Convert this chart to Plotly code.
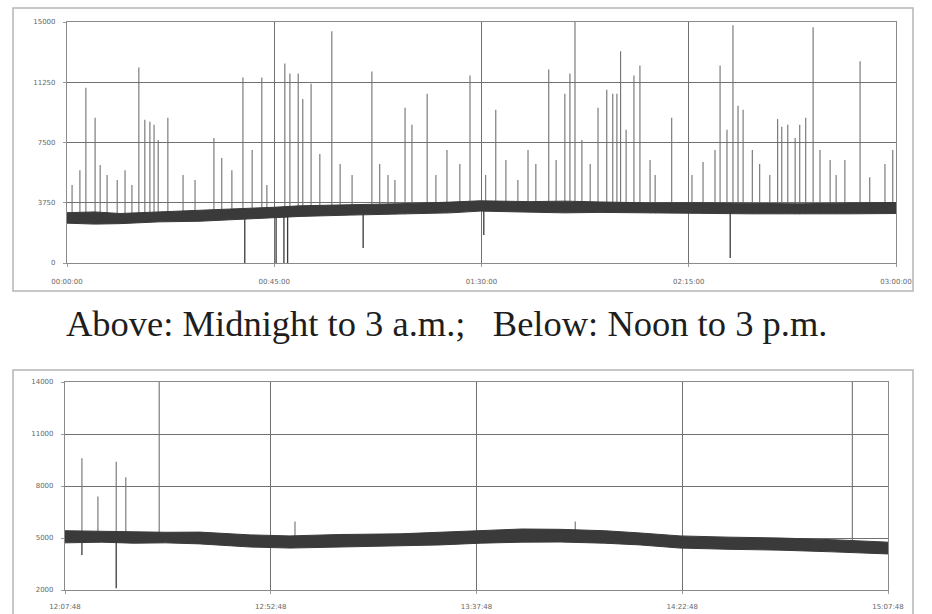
import numpy as np
import plotly.graph_objects as go

# ---------------- Midnight to 3 a.m. (minutes after 00:00) ----------------
night_band_t = [0, 6, 11.5, 20, 28.9, 34, 39.7, 45, 50.6, 61.4, 72.3, 83.2, 89.7,
                100.5, 108, 115.7, 126.6, 137.4, 148.3, 159.1, 170, 180]
night_band_lo = [2480, 2420, 2450, 2560, 2600, 2680, 2730, 2820, 2900, 2980, 3030,
                 3120, 3230, 3180, 3120, 3150, 3100, 3090, 3060, 3040, 3060, 3080]
night_band_hi = [3130, 3180, 3080, 3180, 3250, 3300, 3380, 3470, 3560, 3620, 3690,
                 3790, 3870, 3820, 3850, 3800, 3740, 3750, 3700, 3680, 3740, 3760]

night_spike_t = [1.1, 2.8, 4.1, 6.1, 7.2, 8.7, 10.9, 12.6, 14.1, 15.6, 16.9, 18.0,
                 18.9, 19.8, 21.9, 25.2, 27.8, 31.9, 33.6, 35.8, 38.2, 40.2, 42.3,
                 43.4, 47.3, 48.4, 50.2, 51.2, 53.0, 54.9, 57.5, 59.3, 61.9, 66.2,
                 67.9, 69.7, 71.2, 73.4, 74.9, 78.2, 80.1, 82.5, 85.3, 87.5, 90.9,
                 93.1, 95.3, 97.9, 100.1, 101.8, 104.6, 106.2, 108.1, 109.2, 110.3,
                 111.8, 113.6, 115.3, 117.2, 118.5, 119.4, 120.2, 121.4, 123.1,
                 124.4, 126.6, 127.7, 131.3, 135.7, 138.1, 140.7, 141.8, 143.3,
                 144.6, 145.7, 146.8, 148.8, 150.4, 152.6, 154.3, 155.2, 156.5,
                 158.1, 159.1, 160.4, 162.0, 163.5, 165.7, 167.0, 168.9, 172.2,
                 174.3, 177.6, 179.3]
night_spike_v = [4850, 5780, 10900, 9040, 6100, 5470, 5160, 5780, 4850, 12170, 8910,
                 8790, 8600, 7650, 9040, 5470, 5160, 7780, 6530, 5780, 11540, 7030,
                 11540, 4850, 12420, 11790, 11790, 10200, 11160, 6780, 14430, 6160,
                 5470, 11920, 6160, 5470, 5160, 9670, 8600, 10540, 5470, 7030, 6160,
                 11670, 5470, 9540, 6410, 5160, 7030, 6160, 12050, 6410, 10540,
                 11790, 15000, 7650, 6160, 9670, 10790, 10540, 10540, 13180, 8290,
                 11670, 12300, 6410, 5470, 9040, 5470, 6280, 7030, 12300, 8290,
                 14800, 9790, 9540, 7030, 6160, 5470, 8970, 8480, 8600, 7780, 8600,
                 9040, 14680, 7030, 6410, 5470, 6410, 12550, 5340, 6160, 7030]
night_drop_t = [38.6, 45.4, 47.1, 47.9, 64.3, 90.5, 144.0]
night_drop_v = [0, 0, 0, 0, 930, 1740, 310]

# ---------------- Noon to 3 p.m. (minutes after the first tick) ----------------
noon_band_t = [0, 8, 15, 22, 29.5, 40.5, 49.2, 60, 73.3, 82, 90.8, 100, 108.3, 118,
               125.8, 134.5, 145, 156.4, 168, 180]
noon_band_lo = [4720, 4760, 4700, 4720, 4660, 4480, 4420, 4480, 4540, 4600, 4700,
                4760, 4770, 4700, 4600, 4420, 4350, 4300, 4200, 4080]
noon_band_hi = [5420, 5380, 5380, 5330, 5340, 5180, 5120, 5200, 5240, 5330, 5420,
                5520, 5500, 5420, 5290, 5120, 5050, 5000, 4900, 4760]

noon_spike_t = [3.7, 7.2, 11.2, 13.3, 20.6, 50.3, 111.6, 172.2]
noon_spike_v = [9600, 7400, 9400, 8500, 14000, 5950, 5950, 14000]
noon_drop_t = [3.7, 11.2]
noon_drop_v = [4020, 2100]

night_ticks = [0, 45, 90, 135, 180]
night_labels = ["00:00:00", "00:45:00", "01:30:00", "02:15:00", "03:00:00"]
noon_ticks = [0, 45, 90, 135, 180]
noon_labels = ["12:07:48", "12:52:48", "13:37:48", "14:22:48", "15:07:48"]

night_yticks = [0, 3750, 7500, 11250, 15000]
noon_yticks = [2000, 5000, 8000, 11000, 14000]

W, H = 932, 614
INK = "#3a3a3a"
SPIKE = "#707070"
GRID = "#707070"


def spikes(ts, vs, band_t, band_lo, band_hi, up=True):
    """Vertical strokes from the noise band out to each peak value."""
    xs, ys = [], []
    ref = band_lo if up else band_hi
    for t, v in zip(ts, vs):
        b = float(np.interp(t, band_t, ref))
        xs += [t, t, None]
        ys += [b, v, None]
    return xs, ys


def px_x(p):
    return p / W


def px_y(p):
    return 1 - p / H


fig = go.Figure()

panels = [
    dict(xa="x", ya="y", band_t=night_band_t, lo=night_band_lo, hi=night_band_hi,
         st=night_spike_t, sv=night_spike_v, dt=night_drop_t, dv=night_drop_v),
    dict(xa="x2", ya="y2", band_t=noon_band_t, lo=noon_band_lo, hi=noon_band_hi,
         st=noon_spike_t, sv=noon_spike_v, dt=noon_drop_t, dv=noon_drop_v),
]

for p in panels:
    sx, sy = spikes(p["st"], p["sv"], p["band_t"], p["lo"], p["hi"], up=True)
    fig.add_trace(go.Scatter(x=sx, y=sy, mode="lines", xaxis=p["xa"], yaxis=p["ya"],
                             line=dict(color=SPIKE, width=1.1), hoverinfo="skip",
                             showlegend=False))
    dx, dy = spikes(p["dt"], p["dv"], p["band_t"], p["lo"], p["hi"], up=False)
    fig.add_trace(go.Scatter(x=dx, y=dy, mode="lines", xaxis=p["xa"], yaxis=p["ya"],
                             line=dict(color=INK, width=1.3), hoverinfo="skip",
                             showlegend=False))
    fig.add_trace(go.Scatter(x=p["band_t"], y=p["lo"], mode="lines", xaxis=p["xa"],
                             yaxis=p["ya"], line=dict(color=INK, width=1),
                             hoverinfo="skip", showlegend=False))
    fig.add_trace(go.Scatter(x=p["band_t"], y=p["hi"], mode="lines", xaxis=p["xa"],
                             yaxis=p["ya"], line=dict(color=INK, width=1),
                             fill="tonexty", fillcolor=INK, hoverinfo="skip",
                             showlegend=False))

axis_common = dict(showgrid=True, gridcolor=GRID, gridwidth=1.4, zeroline=False,
                   showline=True, linecolor="#8a8a8a", linewidth=1.2, mirror=True,
                   ticks="outside", ticklen=3, tickcolor="#9a9a9a", automargin=False,
                   tickfont=dict(family="DejaVu Sans", size=7, color="#666"))

fig.update_layout(
    width=W, height=H, margin=dict(l=0, r=0, t=0, b=0, autoexpand=False),
    paper_bgcolor="white", plot_bgcolor="white",
    xaxis=dict(domain=[px_x(67), px_x(896)], range=[0, 180], anchor="y",
               tickvals=night_ticks, ticktext=night_labels, ticklabelstandoff=8,
               **axis_common),
    yaxis=dict(domain=[px_y(263), px_y(22)], range=[0, 15000], anchor="x",
               tickvals=night_yticks, ticktext=[str(v) for v in night_yticks],
               ticklabelstandoff=6, **axis_common),
    xaxis2=dict(domain=[px_x(65), px_x(888)], range=[0, 180], anchor="y2",
                tickvals=noon_ticks, ticktext=noon_labels, ticklabelstandoff=6,
                **axis_common),
    yaxis2=dict(domain=[px_y(590), px_y(382)], range=[2000, 14000], anchor="x2",
                tickvals=noon_yticks, ticktext=[str(v) for v in noon_yticks],
                ticklabelstandoff=6, **axis_common),
    shapes=[
        dict(type="rect", xref="paper", yref="paper", x0=px_x(13), x1=px_x(913),
             y0=px_y(291), y1=px_y(8), line=dict(color="#b5b5b5", width=1.5)),
        dict(type="rect", xref="paper", yref="paper", x0=px_x(13), x1=px_x(913),
             y0=px_y(630), y1=px_y(370), line=dict(color="#b5b5b5", width=1.5)),
    ],
    annotations=[
        dict(text="Above: Midnight to 3 a.m.;&nbsp;&nbsp; Below: Noon to 3 p.m.",
             xref="paper", yref="paper", x=px_x(446), y=px_y(323),
             showarrow=False, xanchor="center", yanchor="middle",
             font=dict(family="Liberation Serif", size=36.5, color="#1e1e1e")),
    ],
)

fig.write_html("out.html")
